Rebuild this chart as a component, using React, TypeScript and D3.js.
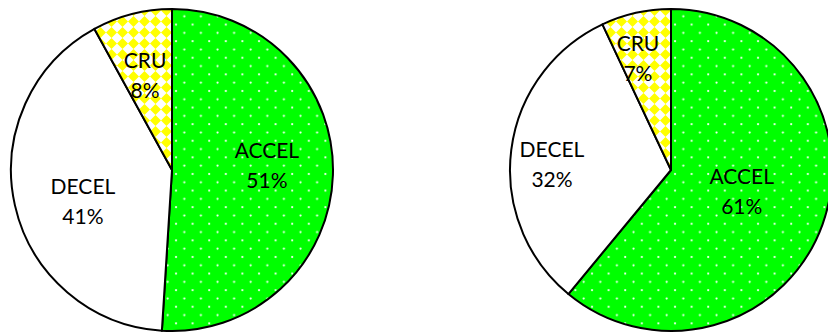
import React from "react";
import * as d3 from "d3";

// Share of each flight phase, two cases
const phases = ["ACCEL", "DECEL", "CRU"];
const leftShares = [51, 41, 8];
const rightShares = [61, 32, 7];
const labelTexts = ["ACCEL", "DECEL", "CRU"];

// Label anchors in polar form: [angle in degrees clockwise from 12 o'clock, radius fraction]
const leftLabelPolar: [number, number][] = [
  [87.6, 0.59],
  [250.2, 0.588],
  [344.1, 0.61],
];
const rightLabelPolar: [number, number][] = [
  [107.2, 0.46],
  [272.4, 0.74],
  [343.4, 0.72],
];

const W = 828;
const H = 335;
const R = 161;

const fills: Record<string, string> = {
  ACCEL: "url(#dotGreen)",
  DECEL: "#ffffff",
  CRU: "url(#diamondYellow)",
};

function Pie({
  cx,
  cy,
  values,
  labelPolar,
}: {
  cx: number;
  cy: number;
  values: number[];
  labelPolar: [number, number][];
}) {
  const data = phases.map((p, i) => ({ phase: p, value: values[i], label: labelTexts[i] }));
  const pie = d3
    .pie<{ phase: string; value: number; label: string }>()
    .value((d) => d.value)
    .sort(null)
    .startAngle(0)
    .endAngle(2 * Math.PI);
  const arc = d3
    .arc<d3.PieArcDatum<{ phase: string; value: number; label: string }>>()
    .innerRadius(0)
    .outerRadius(R);
  const arcs = pie(data);
  return (
    <g transform={`translate(${cx},${cy})`}>
      {arcs.map((a) => (
        <path
          key={a.data.phase}
          d={arc(a) || ""}
          fill={fills[a.data.phase]}
          stroke="#000"
          strokeWidth={2}
          strokeLinejoin="round"
        />
      ))}
      {arcs.map((a, i) => {
        const [deg, f] = labelPolar[i];
        const ang = (deg * Math.PI) / 180;
        const x = Math.sin(ang) * R * f;
        const y = -Math.cos(ang) * R * f;
        return (
          <text
            key={a.data.phase + "-lbl"}
            x={x}
            y={y}
            textAnchor="middle"
            fontFamily="Lato, 'Noto Sans', sans-serif"
            fontSize={21}
            fill="#000"
          >
            <tspan x={x} dy={-8}>
              {a.data.label}
            </tspan>
            <tspan x={x} dy={30}>
              {`${a.data.value}%`}
            </tspan>
          </text>
        );
      })}
    </g>
  );
}

export default function App() {
  return (
    <svg
      width={W}
      height={H}
      style={{ position: "absolute", left: 0, top: 0, background: "#fff" }}
    >
      <defs>
        <pattern id="dotGreen" patternUnits="userSpaceOnUse" width={16.6} height={16.6}>
          <rect width={16.6} height={16.6} fill="#00ff00" />
          <circle cx={4} cy={4} r={1.1} fill="#ffffff" />
          <circle cx={12.3} cy={12.3} r={1.1} fill="#ffffff" />
        </pattern>
        <pattern id="diamondYellow" patternUnits="userSpaceOnUse" width={11} height={11}>
          <rect width={11} height={11} fill="#ffffff" />
          <path d="M5.5,0 L11,5.5 L5.5,11 L0,5.5 Z" fill="#ffff00" />
        </pattern>
      </defs>
      <Pie cx={172} cy={170} values={leftShares} labelPolar={leftLabelPolar} />
      <Pie cx={671} cy={170} values={rightShares} labelPolar={rightLabelPolar} />
    </svg>
  );
}
